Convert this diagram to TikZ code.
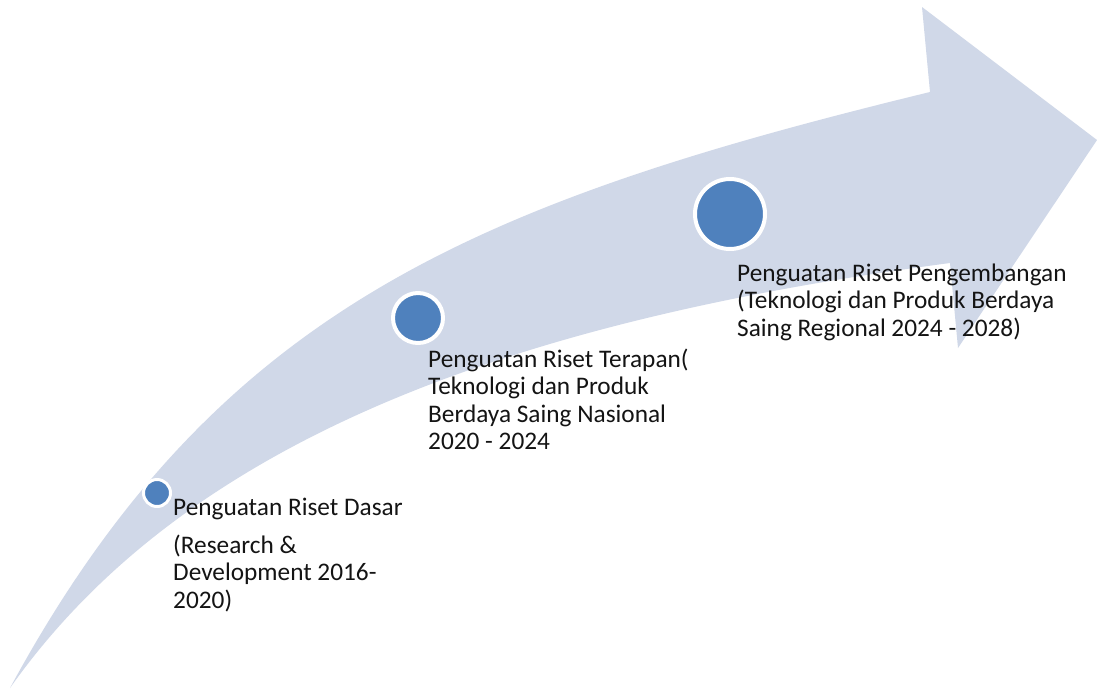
\documentclass[tikz,border=0pt]{standalone}
\usepackage{fontspec}
\setmainfont{Carlito}
\definecolor{arrowfill}{RGB}{208,216,232}
\definecolor{dotblue}{RGB}{79,129,189}
\definecolor{txt}{RGB}{20,20,20}
\tikzset{
  dot/.style={circle, fill=dotblue, draw=white, inner sep=0pt},
  lbl/.style={inner sep=0pt, align=left, text=txt, font=\fontsize{25.3}{27.5}\selectfont},
}
\begin{document}
\begin{tikzpicture}[x=1pt,y=-1pt]
\useasboundingbox (0,0) rectangle (1097,691);
\fill[white] (0,0) rectangle (1097,691);
% curved arrow
\fill[arrowfill] (10,688) .. controls (215,310) and (474,203) .. (930,92)
  -- (922,7) -- (1097,140) -- (958,348) -- (950,263)
  .. controls (504,322) and (183,443) .. (10,688) -- cycle;
% milestones
\node[dot, minimum size=27pt, line width=3pt] (d1) at (157,493) {};
\node[dot, minimum size=50pt, line width=4pt] (d2) at (418,318) {};
\node[dot, minimum size=70pt, line width=4pt] (d3) at (730,214) {};
% labels (anchor = baseline of the last line)
\node[lbl, anchor=base west] (t1) at (173,515) {Penguatan Riset Dasar};
\node[lbl, anchor=base west] (t1b) at (173,608) {(Research \&\\Development 2016-\\2020)};
\node[lbl, anchor=base west] (t2) at (428,449.5) {Penguatan Riset Terapan(\\Teknologi dan Produk\\Berdaya Saing Nasional\\2020 - 2024};
\node[lbl, anchor=base west] (t3) at (737,336) {Penguatan Riset Pengembangan\\(Teknologi dan Produk Berdaya\\Saing Regional 2024 - 2028)};
\end{tikzpicture}
\end{document}
